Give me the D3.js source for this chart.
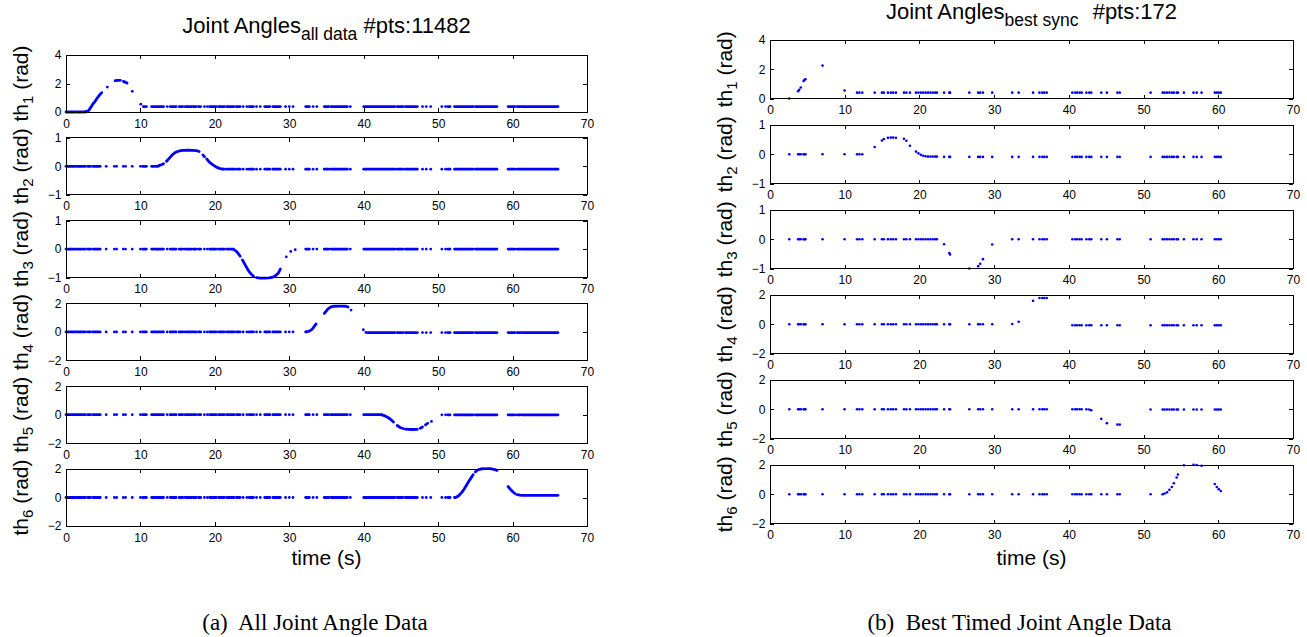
<!DOCTYPE html>
<html>
<head>
<meta charset="utf-8">
<script src="https://cdn.jsdelivr.net/npm/d3@7/dist/d3.min.js"></script>
<style>
  body { margin: 0; background: #fff; }
  text { font-family: "Liberation Sans", Arial, sans-serif; fill: #000; }
  .cap { font-family: "Liberation Serif", "Times New Roman", serif; white-space: pre; }
</style>
</head>
<body>
<svg id="fig" width="1307" height="637"></svg>
<script>
// axes setup shared by both figures
const timeTicks = [0, 10, 20, 30, 40, 50, 60, 70]
const jointNames = ['1', '2', '3', '4', '5', '6']
const yDomains = [[0, 4], [-1, 1], [-1, 1], [-2, 2], [-2, 2], [-2, 2]]
const yTicks = [[0, 2, 4], [-1, 0, 1], [-1, 0, 1], [-2, 0, 2], [-2, 0, 2], [-2, 0, 2]]

// (a) all data: stretches of dense sampling and isolated samples (s)
const runsAll = [[0, 1.2], [1.4, 2.1], [2.3, 2.6], [2.9, 3.3], [3.6, 4.6], [10.3, 10.8], [11.5, 11.8], [12.0, 13.1],
  [14.0, 14.8], [15.2, 15.7], [16.0, 16.9], [17.1, 17.5], [17.8, 18.1], [19.3, 20.2], [20.5, 21.3], [21.6, 22.6],
  [22.9, 23.4], [24.6, 25.2], [26.7, 27.4], [27.8, 28.8], [32.2, 32.7], [34.7, 35.3], [35.6, 37.8], [40.0, 44.2],
  [44.5, 45.3], [45.6, 46.2], [46.4, 47.2], [51.3, 51.6], [52.2, 54.7], [55.0, 56.3], [56.5, 57.9], [59.4, 60.3],
  [60.6, 61.0], [61.2, 66.1]]
const singlesAll = [5.4, 6.5, 6.8, 7.7, 8.0, 8.9, 10.0, 13.6, 18.6, 19.0, 23.8, 24.3, 25.6, 26.1, 29.5, 30.0, 30.5,
  33.2, 33.7, 38.2, 47.9, 48.4, 49.0, 50.5, 51.0]

// (a) resting angle before / after each joint moves, and the time window of the move
const restBefore = [0, 0, 0, 0, 0, 0]
const restAfter = [0.38, -0.1, 0, -0.05, -0.01, 0.15]
const moveWindow = [[2.6, 10.4], [12.4, 21.0], [22.5, 31.0], [32.3, 40.5], [42.4, 50.3], [52.3, 61.2]]

const moveTh1 = [
  [[2.6, 0.02], [2.8, 0.03], [3.0, 0.08], [3.2, 0.22], [3.4, 0.38], [3.6, 0.55], [3.8, 0.68], [4.0, 0.82], [4.2, 0.98], [4.4, 1.12], [4.6, 1.25], [4.8, 1.36]],
  [[5.55, 1.75]], [[6.6, 2.2], [7.0, 2.22], [7.3, 2.22]], [[7.7, 2.15], [8.0, 2.08], [8.2, 2.03]], [[8.9, 1.45]], [[10.05, 0.55]]]
const moveTh2 = [
  [[12.5, 0.03], [12.8, 0.05], [13.1, 0.09]],
  [[13.5, 0.18], [13.8, 0.26], [14.1, 0.35], [14.4, 0.43], [14.7, 0.49], [15.0, 0.52], [15.4, 0.55], [15.8, 0.56], [16.4, 0.57], [17.0, 0.56], [17.5, 0.55], [17.9, 0.52]],
  [[18.4, 0.4], [18.6, 0.34]], [[18.9, 0.26], [19.3, 0.14], [19.7, 0.06], [20.2, -0.03], [20.7, -0.08], [21.0, -0.09]]]
const moveTh3 = [
  [[22.5, -0.01], [22.8, -0.06], [23.1, -0.14], [23.4, -0.25]],
  [[23.7, -0.38], [24.0, -0.52], [24.3, -0.66], [24.6, -0.79], [24.9, -0.88], [25.2, -0.95]],
  [[25.6, -1.0], [26.1, -1.02], [26.7, -1.02], [27.3, -1.01], [27.8, -0.98], [28.1, -0.94], [28.5, -0.85], [28.8, -0.7]],
  [[29.6, -0.27]], [[30.2, -0.08]], [[30.8, -0.02]]]
const moveTh4 = [
  [[32.3, 0.01], [32.7, 0.06], [33.1, 0.2], [33.4, 0.42], [33.6, 0.56]],
  [[34.7, 1.3], [34.9, 1.42], [35.2, 1.62], [35.6, 1.76], [36.0, 1.8], [36.6, 1.81], [37.2, 1.81], [37.6, 1.8], [37.9, 1.75]],
  [[38.3, 1.53]], [[39.95, 0.15]], [[40.3, -0.04]]]
const moveTh5 = [
  [[42.4, -0.01], [42.8, -0.07], [43.2, -0.18], [43.6, -0.32], [44.0, -0.52]],
  [[44.5, -0.76], [44.9, -0.9], [45.3, -0.97]], [[45.6, -1.01], [46.0, -1.03], [46.5, -1.04], [47.2, -1.03]],
  [[47.6, -0.95], [47.9, -0.86]], [[48.3, -0.72], [48.6, -0.6]], [[49.1, -0.47]]]
const moveTh6 = [
  [[52.3, 0], [52.6, 0.06], [52.9, 0.2], [53.2, 0.38], [53.5, 0.6], [53.8, 0.86], [54.1, 1.12], [54.4, 1.36], [54.7, 1.6]],
  [[55.0, 1.8], [55.3, 1.93], [55.7, 2.0], [56.2, 2.02]], [[56.5, 2.02], [57.0, 2.02], [57.5, 1.98], [57.9, 1.9]],
  [[59.4, 0.77], [59.7, 0.58], [60.0, 0.42], [60.3, 0.28]], [[60.6, 0.2], [61.0, 0.16]]]

// (b) best sync: sample times (s) and the six joint angles (rad)
const timesSync = [2.58, 3.76, 3.9, 4.13, 4.5, 4.62, 4.75, 7.03, 9.98, 11.65,
  11.97, 12.35, 14.01, 14.98, 15.24, 15.78, 16.16, 16.48, 16.85, 17.93,
  18.25, 18.73, 19.54, 19.86, 20.18, 20.5, 20.83, 21.15, 21.47, 21.79,
  22.11, 22.33, 23.3, 24.0, 24.1, 26.68, 27.86, 28.13, 28.5, 29.74,
  32.42, 33.28, 35.21, 36.07, 36.45, 36.71, 37.04, 40.47, 40.85, 41.12,
  41.44, 41.71, 42.35, 42.73, 43.0, 44.34, 45.09, 46.5, 46.81, 50.94,
  52.55, 52.82, 53.14, 53.46, 53.78, 54.05, 54.43, 54.6, 55.4, 56.68,
  57.11, 57.76, 59.53, 59.8, 60.06, 60.33]
const th1Sync = [0, 0.5, 0.6, 0.75, 1.2, 1.28, 1.32, 2.25, 0.55, 0.4,
  0.4, 0.4, 0.4, 0.4, 0.4, 0.4, 0.4, 0.4, 0.4, 0.4,
  0.4, 0.4, 0.4, 0.4, 0.4, 0.4, 0.4, 0.4, 0.4, 0.4,
  0.4, 0.4, 0.4, 0.4, 0.4, 0.4, 0.4, 0.4, 0.4, 0.4,
  0.4, 0.4, 0.4, 0.4, 0.4, 0.4, 0.4, 0.4, 0.4, 0.4,
  0.4, 0.4, 0.4, 0.4, 0.4, 0.4, 0.4, 0.4, 0.4, 0.4,
  0.4, 0.4, 0.4, 0.4, 0.4, 0.4, 0.4, 0.4, 0.4, 0.4,
  0.4, 0.4, 0.4, 0.4, 0.4, 0.4]
const th2Sync = [0, 0, 0, 0, 0, 0, 0, 0, 0, 0,
  0, 0, 0.25, 0.47, 0.52, 0.56, 0.57, 0.57, 0.56, 0.53,
  0.46, 0.29, 0.09, 0.03, -0.02, -0.05, -0.07, -0.08, -0.08, -0.08,
  -0.08, -0.08, -0.09, -0.09, -0.09, -0.09, -0.09, -0.09, -0.09, -0.09,
  -0.09, -0.09, -0.09, -0.09, -0.09, -0.09, -0.09, -0.09, -0.09, -0.09,
  -0.09, -0.09, -0.09, -0.09, -0.09, -0.09, -0.09, -0.09, -0.09, -0.09,
  -0.09, -0.09, -0.09, -0.09, -0.09, -0.09, -0.09, -0.09, -0.09, -0.09,
  -0.09, -0.09, -0.09, -0.09, -0.09, -0.09]
const th3Sync = [0, 0, 0, 0, 0, 0, 0, 0, 0, 0,
  0, 0, 0, 0, 0, 0, 0, 0, 0, 0,
  0, 0, 0, 0, 0, 0, 0, 0, 0, 0,
  0, 0, -0.17, -0.47, -0.52, -1.0, -0.92, -0.84, -0.68, -0.18,
  0, 0, 0, 0, 0, 0, 0, 0, 0, 0,
  0, 0, 0, 0, 0, 0, 0, 0, 0, 0,
  0, 0, 0, 0, 0, 0, 0, 0, 0, 0,
  0, 0, 0, 0, 0, 0]
const th4Sync = [0, 0, 0, 0, 0, 0, 0, 0, 0, 0,
  0, 0, 0, 0, 0, 0, 0, 0, 0, 0,
  0, 0, 0, 0, 0, 0, 0, 0, 0, 0,
  0, 0, 0, 0, 0, 0, 0, 0, 0, 0,
  0.02, 0.17, 1.6, 1.79, 1.8, 1.8, 1.79, -0.07, -0.07, -0.07,
  -0.07, -0.07, -0.07, -0.07, -0.07, -0.07, -0.07, -0.07, -0.07, -0.07,
  -0.07, -0.07, -0.07, -0.07, -0.07, -0.07, -0.07, -0.07, -0.07, -0.07,
  -0.07, -0.07, -0.07, -0.07, -0.07, -0.07]
const th5Sync = [0, 0, 0, 0, 0, 0, 0, 0, 0, 0,
  0, 0, 0, 0, 0, 0, 0, 0, 0, 0,
  0, 0, 0, 0, 0, 0, 0, 0, 0, 0,
  0, 0, 0, 0, 0, 0, 0, 0, 0, 0,
  0, 0, 0, 0, 0, 0, 0, 0, 0, 0,
  0, 0, 0, -0.02, -0.07, -0.66, -0.95, -1.05, -1.05, -0.02,
  -0.02, -0.02, -0.02, -0.02, -0.02, -0.02, -0.02, -0.02, -0.02, -0.02,
  -0.02, -0.02, -0.02, -0.02, -0.02, -0.02]
const th6Sync = [0, 0, 0, 0, 0, 0, 0, 0, 0, 0,
  0, 0, 0, 0, 0, 0, 0, 0, 0, 0,
  0, 0, 0, 0, 0, 0, 0, 0, 0, 0,
  0, 0, 0, 0, 0, 0, 0, 0, 0, 0,
  0, 0, 0, 0, 0, 0, 0, 0, 0, 0,
  0, 0, 0, 0, 0, 0, 0, 0, 0, 0,
  0, 0.05, 0.13, 0.3, 0.5, 0.75, 1.15, 1.35, 1.98, 2.02,
  2.0, 1.95, 0.7, 0.5, 0.35, 0.22]

const movesAll = [moveTh1, moveTh2, moveTh3, moveTh4, moveTh5, moveTh6]
const syncAll = [th1Sync, th2Sync, th3Sync, th4Sync, th5Sync, th6Sync]

const svg = d3.select('#fig')
const blue = '#0000ff'
const tickFont = '"Liberation Sans", Arial, sans-serif'

/** Rest samples of joint i, clipped round its move window, plus the read move samples. */
function piecesAll (i) {
  const [a, b] = moveWindow[i]
  const pieces = []
  runsAll.forEach(function ([s, e]) {
    if (s < a) pieces.push([[s, restBefore[i]], [Math.min(e, a), restBefore[i]]])
    if (e > b) pieces.push([[Math.max(s, b), restAfter[i]], [e, restAfter[i]]])
  })
  singlesAll.forEach(function (t) {
    if (t < a) pieces.push([[t, restBefore[i]]])
    else if (t > b) pieces.push([[t, restAfter[i]]])
  })
  return pieces.concat(movesAll[i])
}

/** Draws one column of six stacked joint plots. */
function drawFigure (cfg) {
  const x = d3.scaleLinear().domain([0, 70]).range([cfg.x0, cfg.x1])

  jointNames.forEach(function (name, i) {
    const top = cfg.top0 + i * cfg.step
    const bottom = top + cfg.h
    const y = d3.scaleLinear().domain(yDomains[i]).range([bottom, top])
    const g = svg.append('g')

    // data
    const marks = g.append('g')
    if (cfg.kind === 'all') {
      const line = d3.line().x(d => x(d[0])).y(d => y(d[1]))
      piecesAll(i).forEach(function (p) {
        if (p.length === 1) {
          marks.append('circle').attr('cx', x(p[0][0])).attr('cy', y(p[0][1])).attr('r', 1.4).attr('fill', blue)
        } else {
          marks.append('path').attr('d', line(p)).attr('fill', 'none').attr('stroke', blue)
            .attr('stroke-width', 2.8).attr('stroke-linecap', 'round').attr('stroke-linejoin', 'round')
        }
      })
    } else {
      marks.selectAll('circle')
        .data(timesSync.map((t, k) => [t, syncAll[i][k]]))
        .enter().append('circle')
        .attr('cx', d => x(d[0]))
        .attr('cy', d => y(d[1]))
        .attr('r', 1.3)
        .attr('fill', blue)
    }

    // axes, ticks pointing inward on all four sides
    const xb = g.append('g').attr('transform', 'translate(0,' + bottom + ')')
      .call(d3.axisBottom(x).tickValues(timeTicks).tickSizeInner(-4).tickSizeOuter(0).tickPadding(7))
    g.append('g').attr('transform', 'translate(0,' + top + ')')
      .call(d3.axisTop(x).tickValues(timeTicks).tickSizeInner(-4).tickSizeOuter(0).tickFormat(''))
    const yl = g.append('g').attr('transform', 'translate(' + cfg.x0 + ',0)')
      .call(d3.axisLeft(y).tickValues(yTicks[i]).tickSizeInner(-4).tickSizeOuter(0).tickPadding(4.5).tickFormat(d3.format('d')))
    g.append('g').attr('transform', 'translate(' + cfg.x1 + ',0)')
      .call(d3.axisRight(y).tickValues(yTicks[i]).tickSizeInner(-4).tickSizeOuter(0).tickFormat(''))
    g.selectAll('.domain').remove()
    g.selectAll('.tick line').attr('stroke', '#000').attr('shape-rendering', 'crispEdges')
    xb.selectAll('text').attr('font-size', 12).attr('font-family', tickFont)
    yl.selectAll('text').attr('font-size', 12).attr('font-family', tickFont)
    g.append('rect').attr('x', cfg.x0).attr('y', top).attr('width', cfg.x1 - cfg.x0).attr('height', cfg.h)
      .attr('fill', 'none').attr('stroke', '#000').attr('stroke-width', 1).attr('shape-rendering', 'crispEdges')

    // y label: th_i (rad)
    const lab = g.append('text')
      .attr('transform', 'translate(' + cfg.labelX + ',' + (top + cfg.h / 2) + ') rotate(-90)')
      .attr('text-anchor', 'middle').attr('font-size', 21)
    lab.append('tspan').text('th')
    lab.append('tspan').attr('font-size', 15).attr('dy', 5).text(name)
    lab.append('tspan').attr('dy', -5).text('\u00a0(rad)')
  })

  const cx = (cfg.x0 + cfg.x1) / 2
  const title = svg.append('text').attr('x', cx).attr('y', cfg.titleY).attr('text-anchor', 'middle').attr('font-size', 22)
  title.append('tspan').text('Joint Angles')
  title.append('tspan').attr('font-size', 17.5).attr('dy', 7).text(cfg.sub)
  title.append('tspan').attr('dy', -7).attr('dx', cfg.gap).text('\u00a0' + cfg.pts)

  svg.append('text').attr('x', cx).attr('y', 565).attr('text-anchor', 'middle').attr('font-size', 21).text('time (s)')
  svg.append('text').attr('class', 'cap').attr('x', cfg.capX).attr('y', 630).attr('text-anchor', 'middle')
    .attr('font-size', 23).text(cfg.caption)
}

drawFigure({ kind: 'all', x0: 66, x1: 587, top0: 55, step: 82.8, h: 57, labelX: 28, titleY: 33, sub: 'all data', gap: 0, pts: '#pts:11482', capX: 315, caption: '(a)  All Joint Angle Data' })
drawFigure({ kind: 'sync', x0: 770, x1: 1293, top0: 40, step: 85, h: 58.5, labelX: 732, titleY: 19, sub: 'best sync', gap: 8, pts: '#pts:172', capX: 1019.5, caption: '(b)  Best Timed Joint Angle Data' })
</script>
</body>
</html>
